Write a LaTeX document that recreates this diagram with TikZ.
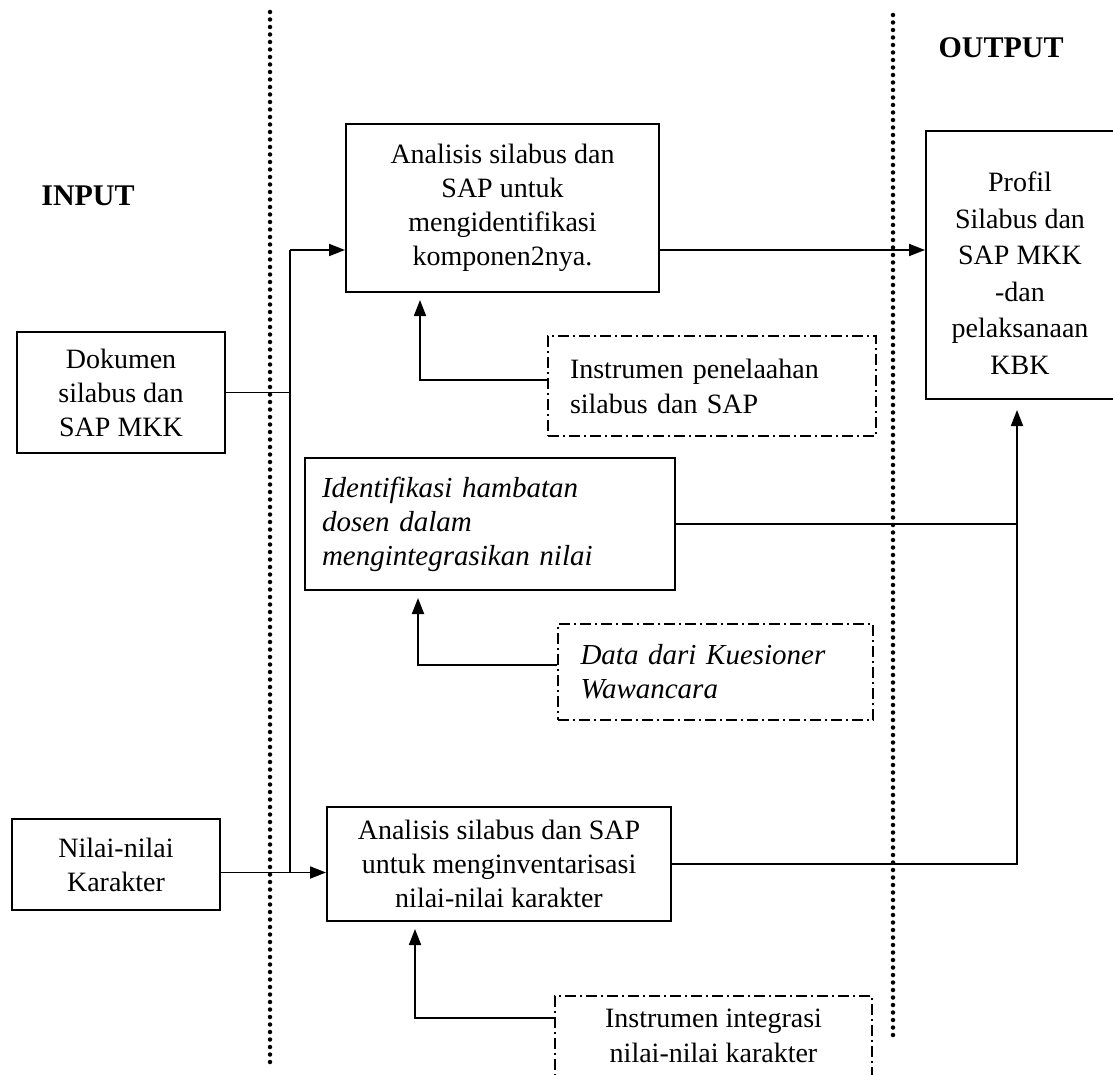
\documentclass[tikz,border=0pt]{standalone}
\usepackage{fontspec}
\setmainfont{Liberation Serif}
\usetikzlibrary{arrows.meta}
\begin{document}
\begin{tikzpicture}[x=1pt,y=-1pt,
  solidbox/.style={draw, line width=2pt, align=center, inner sep=0pt,
    font=\fontsize{28pt}{34pt}\selectfont},
  dashbox/.style={draw, line width=1.6pt, dash pattern=on 11pt off 4pt on 2pt off 4pt,
    font=\fontsize{28pt}{35pt}\selectfont, inner sep=0pt},
  itbox/.style={font=\fontsize{29pt}{34pt}\selectfont\itshape},
  conn/.style={line width=1.8pt},
  arr/.style={conn, -{Triangle[length=16pt,width=12pt]}},
  uparr/.style={arr, shorten >=7pt},
  dotline/.style={line width=4.5pt, dash pattern=on 0pt off 7.5pt, line cap=round},
  heading/.style={font=\fontsize{30pt}{34pt}\selectfont\bfseries},
  plain/.style={align=center, font=\fontsize{28pt}{36.5pt}\selectfont}
]
\useasboundingbox (0,0) rectangle (1113,1075);
\fill[white] (0,0) rectangle (1113,1075);

% dotted separators
\draw[dotline] (270,12) -- (270,1066);
\draw[dotline] (893,15) -- (893,1040);

% headings
\node[heading] (inp) at (88,196) {INPUT};
\node[heading] (outp) at (1001,48) {OUTPUT};

% input boxes
\node[solidbox, minimum width=208pt, minimum height=121pt] (dok) at (121,392.5)
  {Dokumen\\silabus dan\\SAP MKK};
\node[solidbox, minimum width=208pt, minimum height=91pt] (nilai) at (116,864.5)
  {Nilai-nilai\\Karakter};

% process boxes
\node[solidbox, minimum width=313pt, minimum height=168pt] (boxA) at (502.5,208)
  {Analisis silabus dan\\SAP untuk\\mengidentifikasi\\komponen2nya.};
\node[solidbox, itbox, minimum width=370pt, minimum height=132pt,
  text width=336pt, align=left] (boxB) at (490,524)
  {Identifikasi hambatan\\dosen dalam\\mengintegrasikan nilai};
\node[solidbox, minimum width=344pt, minimum height=114pt] (boxC) at (499,864)
  {Analisis silabus dan SAP\\untuk menginventarisasi\\nilai-nilai karakter};

% instrument boxes
\node[dashbox, minimum width=328pt, minimum height=100pt,
  text width=284pt, align=left] (ins1) at (712,386)
  {Instrumen penelaahan\\silabus dan SAP};
\node[dashbox, itbox, minimum width=315pt, minimum height=96pt,
  text width=270pt, align=left] (ins2) at (715.5,672)
  {Data dari Kuesioner\\Wawancara};
\node[dashbox, minimum width=317pt, minimum height=80pt, align=center] (ins3) at (713.5,1036)
  {Instrumen integrasi\\nilai-nilai karakter};

% output box
\node[draw, line width=2pt, minimum width=200pt, minimum height=268pt,
  anchor=north west, inner sep=0pt] (out) at (925,130) {};
\node[plain] (outtxt) at (1020,273)
  {Profil\\Silabus dan\\SAP MKK\\-dan\\pelaksanaan\\KBK};

% helper coordinates
\coordinate (t1) at (290,250);
\coordinate (t2) at (290,872);
\coordinate (rv) at (1017,860);
\coordinate (c1) at (420,380);
\coordinate (c2) at (418,665);
\coordinate (c3) at (415,1018);

% input trunk
\draw[conn] (dok.east) -- (dok.east -| t1);
\draw[conn] (t2) -- (t1);
\draw[arr] (t1) -- (t1 -| boxA.west);
\draw[arr] ([yshift=-8pt]nilai.east) -- ([yshift=-8pt]nilai.east -| boxC.west);

% to output
\draw[arr] (t1 -| boxA.east) -- (t1 -| out.west);
\draw[conn] (boxB.east) -- (boxB.east -| rv);
\draw[arr, shorten >=10pt] (boxC.east) -- (boxC.east -| rv) -- (rv |- out.south);

% instruments to processes
\draw[uparr] (c1 -| ins1.west) -- (c1) -- (c1 |- boxA.south);
\draw[uparr] (c2 -| ins2.west) -- (c2) -- (c2 |- boxB.south);
\draw[uparr] (c3 -| ins3.west) -- (c3) -- (c3 |- boxC.south);
\end{tikzpicture}
\end{document}
